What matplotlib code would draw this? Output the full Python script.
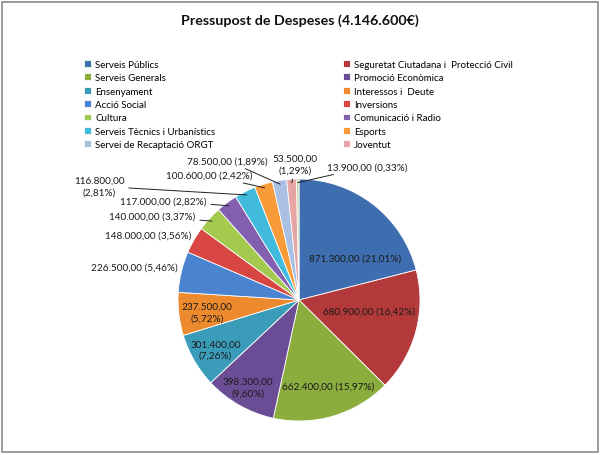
import numpy as np
import matplotlib.pyplot as plt
from matplotlib.patches import Rectangle

# DATA
categories = ["Serveis Públics", "Seguretat Ciutadana i  Protecció Civil",
              "Serveis Generals", "Promoció Econòmica", "Ensenyament",
              "Interessos i  Deute", "Acció Social", "Inversions", "Cultura",
              "Comunicació i Radio", "Serveis Tècnics i Urbanístics", "Esports",
              "Servei de Recaptació ORGT", "Joventut", ""]
values = [871300, 680900, 662400, 398300, 301400, 237500, 226500, 148000,
          140000, 117000, 116800, 100600, 78500, 53500, 13900]
colors = ["#3E6EB0", "#B3393A", "#8AAD3E", "#6B4D96", "#3B9CBA", "#EE8A2E",
          "#4A84D0", "#D84643", "#A3CA4E", "#8360AF", "#41BBDD", "#F89A38",
          "#A9C0E4", "#E6A4A4", "#C4D9A0"]
title = "Pressupost de Despeses (4.146.600€)"

# label layout (pie radius units), two-line flag, leader line flag
label_pos = [(0.46, 0.35), (0.58, -0.09), (0.24, -0.71), (-0.42, -0.72),
             (-0.69, -0.41), (-0.76, -0.10), (-1.36, 0.27), (-1.25, 0.54),
             (-1.21, 0.69), (-1.12, 0.82), (-1.65, 0.94), (-0.74, 1.03),
             (-0.59, 1.15), (-0.03, 1.12), (0.56, 1.10)]
two_line = [0, 0, 0, 1, 1, 1, 0, 0, 0, 0, 1, 0, 0, 1, 0]
leader = [0, 0, 0, 0, 0, 0, 0, 0, 1, 1, 1, 1, 1, 1, 1]

plt.rcParams['font.family'] = ['Lato', 'DejaVu Sans']

def fmt(v, total):
    s = f"{v:,.2f}".replace(",", "X").replace(".", ",").replace("X", ".")
    pct = np.floor(10000 * v / total + 1e-9) / 100  # excel-like truncation
    p = f"{pct:.2f}".replace(".", ",")
    return s, "(" + p + "%)"

def main():
    fig = plt.figure(figsize=(6, 4.56), dpi=100)
    fig.patches.append(Rectangle((0.003, 0.006), 0.993, 0.988, transform=fig.transFigure,
                                 fill=False, edgecolor="#8C8C8C", linewidth=1.2))
    fig.text(0.5, 0.955, title, ha="center", va="center", fontsize=10.3,
             fontweight="bold", color="#111111")

    ax = fig.add_axes([178 / 600, 34 / 456, 242 / 600, 242 / 456])
    total = sum(values)
    wedges, _ = ax.pie(values, colors=colors, startangle=90, counterclock=False,
                       radius=1.0, wedgeprops=dict(edgecolor="white", linewidth=0.6))
    ax.set_xlim(-1, 1)
    ax.set_ylim(-1, 1)
    ax.set_aspect("equal")
    ax.axis("off")

    for i, w in enumerate(wedges):
        s, p = fmt(values[i], total)
        txt = s + ("\n" if two_line[i] else " ") + p
        x, y = label_pos[i]
        if leader[i]:
            ang = np.deg2rad((w.theta1 + w.theta2) / 2)
            ax.annotate(txt, xy=(0.97 * np.cos(ang), 0.97 * np.sin(ang)), xytext=(x, y),
                        ha="center", va="center", fontsize=7.2, color="#1A1A1A",
                        linespacing=1.4, annotation_clip=False,
                        arrowprops=dict(arrowstyle="-", color="#222222", lw=0.7,
                                        shrinkA=1, shrinkB=0))
        else:
            ax.text(x, y, txt, ha="center", va="center", fontsize=7.2,
                    color="#1A1A1A", linespacing=1.4)

    handles = wedges[:14]
    labels = categories[:14]
    fig.legend(handles[0::2], labels[0::2], loc="upper left",
               bbox_to_anchor=(80 / 600, 1 - 57 / 456), frameon=False,
               fontsize=7, handlelength=0.7, handleheight=0.7,
               handletextpad=0.45, labelspacing=0.45, borderaxespad=0)
    fig.legend(handles[1::2], labels[1::2], loc="upper left",
               bbox_to_anchor=(339 / 600, 1 - 57 / 456), frameon=False,
               fontsize=7, handlelength=0.7, handleheight=0.7,
               handletextpad=0.45, labelspacing=0.45, borderaxespad=0)

    fig.savefig("out.png", dpi=100)

if __name__ == "__main__":
    main()
